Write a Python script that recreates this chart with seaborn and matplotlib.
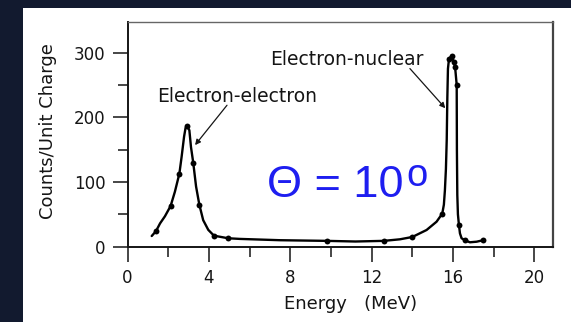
import matplotlib
matplotlib.use("Agg")
import matplotlib.pyplot as plt
from matplotlib.patches import Rectangle
from matplotlib.ticker import MultipleLocator
import pandas as pd
import seaborn as sns

# Traced spectrum (energy in MeV, counts per unit charge)
curve_energy = [1.19, 1.40, 1.60, 1.84, 2.12, 2.33, 2.55, 2.66, 2.78, 2.85, 2.91,
                3.04, 3.12, 3.23, 3.37, 3.53, 3.72, 3.97, 4.25, 4.95, 5.53, 7.50,
                9.79, 11.2, 12.60, 13.39, 14.00, 14.70, 15.19, 15.47, 15.55, 15.60,
                15.65, 15.69, 15.72, 15.75, 15.80, 15.93, 16.05, 16.10, 16.18,
                16.19, 16.21, 16.24, 16.29, 16.34, 16.42, 16.58, 16.83, 17.16, 17.48]
curve_counts = [16.5, 24, 36, 47, 63, 85, 113, 139, 170, 183, 187,
                180, 154, 130, 93, 65, 41, 26, 17, 13, 12, 10,
                9, 8, 9, 11.4, 15, 25.8, 38.6, 51, 65, 87,
                120, 165, 230, 275, 290, 295, 285, 278, 250,
                150, 80, 50, 33.5, 20.6, 13, 10, 6.8, 7.7, 10]

# Measured points
point_energy = [1.40, 2.12, 2.55, 2.91, 3.23, 3.53, 4.25, 4.95, 9.79, 12.60,
                14.00, 15.47, 15.80, 15.93, 16.05, 16.10, 16.18, 16.29, 16.58, 17.48]
point_counts = [24, 63, 113, 187, 130, 65, 17, 13, 9, 9,
                15, 51, 290, 295, 285, 278, 250, 33.5, 10, 10]

x_ticks = [0, 4, 8, 12, 16, 20]
y_ticks = [0, 100, 200, 300]

ink = "#151515"

sns.set_style("ticks")
plt.rcParams["font.family"] = ["DejaVu Sans"]

fig = plt.figure(figsize=(5.71, 3.22), dpi=100)
fig.patch.set_facecolor("#121a2f")
fig.patches.append(Rectangle((23 / 571, 0), 1 - 23 / 571, (322 - 8) / 322,
                             transform=fig.transFigure, facecolor="white",
                             edgecolor="none", zorder=-5))

ax = fig.add_axes([0.2233, 0.2339, 0.968 - 0.2233, 0.9332 - 0.2339])
ax.set_zorder(2)
ax.set_facecolor("white")

curve = pd.DataFrame({"energy": curve_energy, "counts": curve_counts})
points = pd.DataFrame({"energy": point_energy, "counts": point_counts})

sns.lineplot(data=curve, x="energy", y="counts", sort=False, estimator=None,
             color="black", linewidth=1.7, ax=ax)
sns.scatterplot(data=points, x="energy", y="counts", color="black", s=18,
                edgecolor="black", linewidth=0, ax=ax, zorder=3)

ax.set_xlim(0, 20.9)
ax.set_ylim(0, 348)
ax.set_xticks(x_ticks)
ax.set_yticks(y_ticks)
ax.xaxis.set_minor_locator(MultipleLocator(2))
ax.yaxis.set_minor_locator(MultipleLocator(50))
ax.tick_params(axis="both", which="major", length=11, width=1.1, pad=5,
               labelsize=12, color=ink, labelcolor=ink)
ax.tick_params(axis="both", which="minor", length=7, width=1.1, color=ink)

for side in ["left", "bottom"]:
    ax.spines[side].set_linewidth(1.4)
    ax.spines[side].set_color(ink)
ax.spines["top"].set_linewidth(1.0)
ax.spines["top"].set_color("#666666")
ax.spines["right"].set_linewidth(1.6)
ax.spines["right"].set_color("#444444")

ax.set_xlabel("Energy   (MeV)", fontsize=13, color=ink)
ax.xaxis.label.set_verticalalignment("center")
ax.xaxis.set_label_coords(0.525, -0.255)
ax.set_ylabel("Counts/Unit Charge", fontsize=13, color=ink)
ax.yaxis.label.set_verticalalignment("center")
ax.yaxis.set_label_coords(-0.186, 0.5115)

ax.text(5.41, 232.6, "Electron-electron", fontsize=13.5, color=ink,
        ha="center", va="center")
ax.annotate("", xy=(3.32, 157), xytext=(4.89, 218.6),
            arrowprops=dict(arrowstyle="-|>", color=ink, lw=0.9,
                            mutation_scale=8, shrinkA=0, shrinkB=0))
ax.text(10.79, 288.6, "Electron-nuclear", fontsize=13.5, color=ink,
        ha="center", va="center")
ax.annotate("", xy=(15.62, 214), xytext=(13.88, 275.3),
            arrowprops=dict(arrowstyle="-|>", color=ink, lw=0.9,
                            mutation_scale=8, shrinkA=0, shrinkB=0))

theta = ax.text(6.85, 77.2, "Θ = 10", fontsize=32.5, color="#1e1ef0",
                family=["Liberation Sans", "DejaVu Sans"], ha="left", va="baseline")
ax.annotate("o", xy=(1, 94.0), xycoords=(theta, "data"), xytext=(2.0, 0),
            textcoords="offset points", fontsize=27.5, color="#1e1ef0",
            family=["Liberation Sans", "DejaVu Sans"], ha="left", va="baseline")

fig.savefig("out.png", dpi=100, facecolor=fig.get_facecolor())
